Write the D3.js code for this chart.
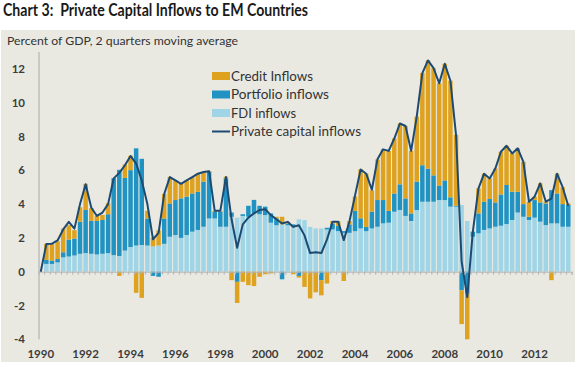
<!DOCTYPE html>
<html><head><meta charset="utf-8">
<script src="https://cdn.jsdelivr.net/npm/d3@7"></script>
<style>
html,body{margin:0;padding:0;background:#fff;}
svg{display:block;font-family:Lato,"Open Sans",sans-serif;}
</style></head>
<body>
<svg id="chart" width="576" height="365"></svg>
<script>
const yearLabels = ["1990","1992","1994","1996","1998","2000","2002","2004","2006","2008","2010","2012"];
const yTicks = [-4,-2,0,2,4,6,8,10,12];

const fdiInflows = [0,0.46,0.46,0.55,0.85,0.9,0.96,1.06,1.1,1.06,1.02,1.06,1.1,0.98,0.93,1.25,1.46,1.55,1.58,1.55,
1.5,1.55,1.65,2.07,2.17,2.0,2.17,2.37,2.47,2.66,3.15,3.15,2.66,2.66,3.25,3.2,3.3,3.25,3.45,3.4,
3.35,2.9,2.75,2.8,2.75,2.7,3.1,3.05,2.65,2.56,2.56,2.5,2.5,2.4,2.3,2.3,2.4,2.56,2.4,2.56,
2.66,2.86,2.9,3.55,3.65,3.3,3.0,3.65,4.14,4.14,4.14,4.24,4.24,3.85,3.85,3.95,3.0,2.07,2.27,2.47,
2.56,2.66,2.72,2.82,3.06,3.5,3.25,3.06,3.2,2.96,2.76,2.86,2.86,2.66,2.66];

const portfolioInflows = [0,0.24,0.2,0.2,0.3,1.0,1.0,1.9,2.55,1.95,1.98,2.0,2.3,4.55,5.1,4.3,4.55,5.75,5.1,1.6,
-0.25,-0.3,1.5,1.97,2.07,2.34,2.27,2.26,2.26,2.67,2.75,0.4,0.89,2.86,0.25,-0.6,0.1,0.65,0.8,0.5,
0.5,0.55,0.4,-0.45,0.1,0.1,-0.25,0,0,0,-0.5,0.1,0.35,0.3,0.1,0.5,1.2,0.6,0.25,1.0,
1.58,1.38,0.7,1.08,1.52,1.04,0.45,1.68,2.16,1.96,1.56,0.86,1.16,0.55,0.05,-1.1,-1.3,0.3,1.18,1.67,
1.74,1.44,1.85,2.31,1.67,1.23,0.75,0.19,1.04,1.14,1.28,1.97,1.77,1.34,1.29];

const creditInflows = [0,0.95,1.0,1.05,1.4,0.85,0.5,0.85,1.55,0.75,0.3,0.3,0.65,0.0,-0.25,0.8,0.85,-1.25,-1.55,0.45,
0.5,0.9,1.45,1.56,1.16,0.86,0.96,0.97,1.07,0.57,0.05,0.05,0.05,0.1,-0.5,-1.25,-0.6,-0.8,-0.85,-0.3,
-0.15,-0.1,0.1,0.45,0.1,-0.15,-0.1,-0.9,-1.58,-1.22,-0.9,-0.7,0.15,0.3,-0.55,0.2,0.85,2.9,3.15,1.25,
2.4,3.0,3.55,3.25,3.6,4.28,3.7,3.85,5.45,6.4,6.35,6.05,6.9,6.9,4.2,-2.0,-2.7,0,1.48,1.66,
1.22,2.0,2.53,2.32,2.27,2.57,2.5,0.89,0.2,1.13,0.1,-0.5,1.17,1.0,0.09];

const privateCapitalInflows = [0,1.64,1.66,1.85,2.5,2.95,2.55,4.0,5.17,3.8,3.3,3.5,4.0,5.52,5.85,6.3,6.85,6.4,5.4,4.0,
1.92,2.3,4.6,5.6,5.4,5.2,5.4,5.6,5.8,5.9,5.95,3.6,3.6,5.6,3.1,1.42,2.8,3.2,3.45,3.65,
3.7,3.35,3.1,2.85,2.95,2.65,2.75,2.15,1.1,1.15,1.1,1.9,2.96,2.96,1.87,2.96,4.5,6.05,5.8,4.85,
6.65,7.24,7.15,7.88,8.77,8.62,7.15,9.18,11.75,12.5,12.05,11.15,12.3,11.3,8.1,0.6,-1.5,2.37,4.93,5.8,
5.52,6.1,7.1,7.45,7.0,7.3,6.5,4.14,4.44,5.23,4.14,4.33,5.8,5.0,3.9];

const seriesNames = ["Credit Inflows","Portfolio inflows","FDI inflows","Private capital inflows"];

// quarters 1990Q1 .. 2013Q3
const quarters = fdiInflows.map((_, i) => (1990 + Math.floor(i / 4)) + "Q" + (i % 4 + 1));

const colors = {fdi:"#9fd5e6", portfolio:"#2193c3", credit:"#dea21f", line:"#1d4a72"};

const svg = d3.select("#chart");

// background panel
svg.append("rect").attr("x",1).attr("y",30).attr("width",574).attr("height",332).attr("fill","#e9e9e2");

// title
svg.append("text").attr("x",3).attr("y",16).attr("font-size",16.5).attr("font-weight","bold")
  .attr("fill","#1a1a1a").attr("textLength",305).attr("lengthAdjust","spacingAndGlyphs")
  .text("Chart 3:\u00a0 Private Capital Inflows to EM Countries");

svg.append("text").attr("x",7).attr("y",45).attr("font-size",12).attr("fill","#333")
  .attr("textLength",231).attr("lengthAdjust","spacingAndGlyphs")
  .text("Percent of GDP, 2 quarters moving average");

const x = d3.scaleBand().domain(quarters).range([38.5, 570.5]).paddingInner(0.2).paddingOuter(0);
const y = d3.scaleLinear().domain([-4, 12]).range([339.3, 68.9]);

const rows = quarters.map((q, i) => ({q, fdi: fdiInflows[i], portfolio: portfolioInflows[i], credit: creditInflows[i]}));
const stack = d3.stack().keys(["fdi","portfolio","credit"]).offset(d3.stackOffsetDiverging);
const stacked = stack(rows);

svg.append("g").selectAll("g").data(stacked).join("g")
  .attr("fill", d => colors[d.key])
  .selectAll("rect").data(d => d).join("rect")
  .attr("x", d => x(d.data.q))
  .attr("width", x.bandwidth())
  .attr("y", d => y(Math.max(d[0], d[1])))
  .attr("height", d => Math.abs(y(d[0]) - y(d[1])));

// y axis line
svg.append("line").attr("x1",39).attr("x2",39).attr("y1",52).attr("y2",y(-4)).attr("stroke","#a8a8a8").attr("stroke-width",1);

// y tick labels
svg.append("g").selectAll("text").data(yTicks).join("text")
  .attr("x",25).attr("y", d => y(d)).attr("dy","0.35em").attr("text-anchor","end")
  .attr("font-size",11.5).attr("font-weight","bold").attr("fill","#3c3c3c")
  .text(d => d);

// zero axis with quarterly ticks
const step = x.step();
const zeroAxis = d3.axisBottom(d3.scaleLinear().domain([0, quarters.length]).range([38.5, 38.5 + step * quarters.length]))
  .tickValues(d3.range(1, quarters.length + 1)).tickSize(3).tickFormat("");
const za = svg.append("g").attr("transform", `translate(0,${y(0)})`).call(zeroAxis);
za.select(".domain").attr("stroke","#b4b4b4");
za.selectAll(".tick line").attr("stroke","#b4b4b4");

// year labels
svg.append("g").selectAll("text").data(yearLabels).join("text")
  .attr("x", d => x(d + "Q1") + x.bandwidth() / 2).attr("y", 357.5).attr("text-anchor","middle")
  .attr("font-size",11.5).attr("font-weight","bold").attr("fill","#3c3c3c")
  .text(d => d);

// total line
const line = d3.line().x((d, i) => x(quarters[i]) + x.bandwidth() / 2).y(d => y(d));
svg.append("path").datum(privateCapitalInflows).attr("d", line).attr("fill","none")
  .attr("stroke", colors.line).attr("stroke-width",2).attr("stroke-linejoin","round");

// legend
const legendItems = [
  {name: seriesNames[0], color: colors.credit, type: "rect", w: 82},
  {name: seriesNames[1], color: colors.portfolio, type: "rect", w: 98},
  {name: seriesNames[2], color: colors.fdi, type: "rect", w: 65},
  {name: seriesNames[3], color: colors.line, type: "line", w: 130}
];
const lg = svg.append("g").selectAll("g").data(legendItems).join("g")
  .attr("transform", (d, i) => `translate(212,${76 + i * 18.5})`);
lg.filter(d => d.type === "rect").append("rect").attr("x",0).attr("y",-4).attr("width",18).attr("height",8).attr("fill", d => d.color);
lg.filter(d => d.type === "line").append("line").attr("x1",0).attr("x2",18).attr("y1",0).attr("y2",0).attr("stroke", d => d.color).attr("stroke-width",2);
lg.append("text").attr("x",19).attr("y",0).attr("dy","0.35em").attr("font-size",13).attr("fill","#333")
  .attr("textLength", d => d.w).attr("lengthAdjust","spacingAndGlyphs").text(d => d.name);
</script>
</body></html>
